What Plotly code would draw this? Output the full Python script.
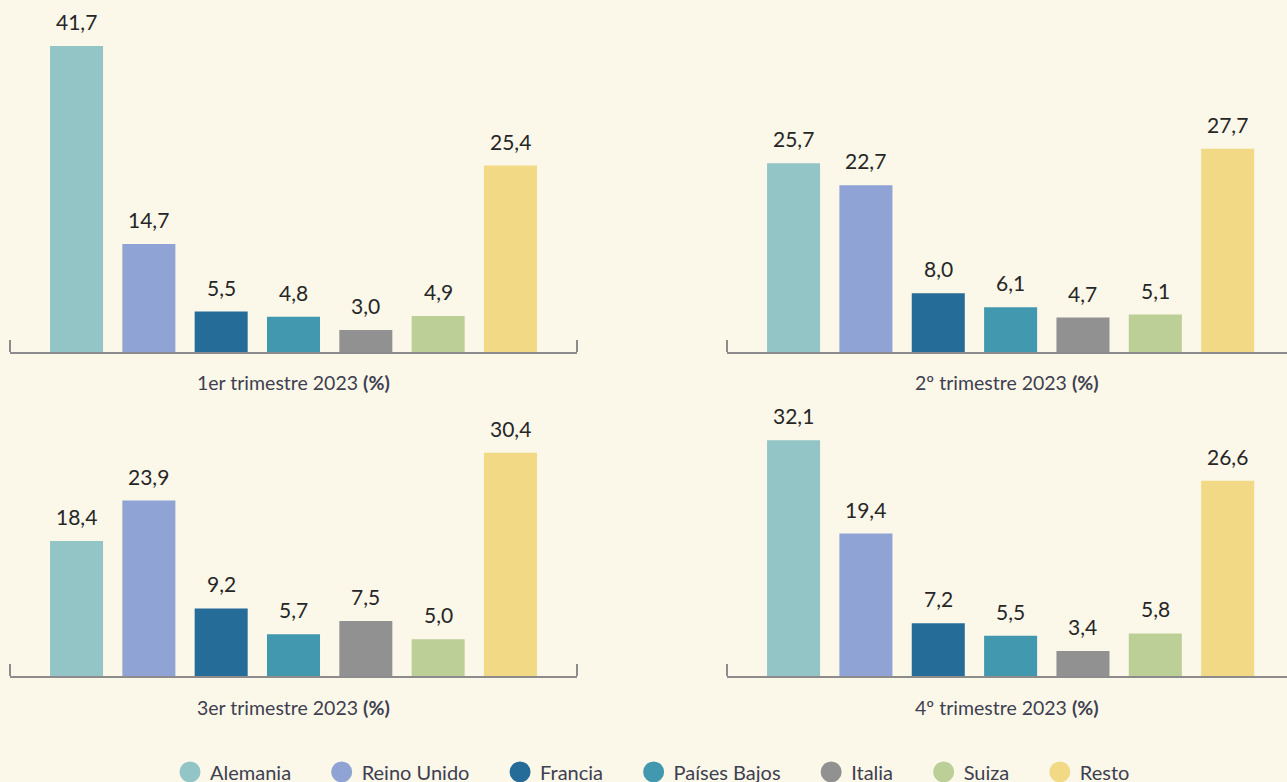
import plotly.graph_objects as go

countries = ["Alemania", "Reino Unido", "Francia", "Países Bajos", "Italia", "Suiza", "Resto"]
colors = ["#94C5C6", "#8FA3D4", "#256C99", "#4298AF", "#919191", "#BBCF96", "#F2D985"]

q1 = [41.7, 14.7, 5.5, 4.8, 3.0, 4.9, 25.4]
q2 = [25.7, 22.7, 8.0, 6.1, 4.7, 5.1, 27.7]
q3 = [18.4, 23.9, 9.2, 5.7, 7.5, 5.0, 30.4]
q4 = [32.1, 19.4, 7.2, 5.5, 3.4, 5.8, 26.6]

titles = ["1er trimestre 2023 <b>(%)</b>", "2º trimestre 2023 <b>(%)</b>",
          "3er trimestre 2023 <b>(%)</b>", "4º trimestre 2023 <b>(%)</b>"]
series = [q1, q2, q3, q4]

BG = "#FBF7E9"
FONT = "Lato"
W, H = 1287, 782

def px_x(p):
    return p / W

def px_y(p):
    return 1 - p / H

left_dom = [px_x(10), px_x(577)]
right_dom = [px_x(727), 1.0]
row1 = [px_y(352), px_y(352 - 323)]
row2 = [px_y(676), px_y(676 - 323)]
doms = [(left_dom, row1), (right_dom, row1), (left_dom, row2), (right_dom, row2)]
xranges = [[-0.92, 6.92], [-0.92, 6.82], [-0.92, 6.92], [-0.92, 6.82]]

fig = go.Figure()
layout = {}
annotations = []
shapes = []

for i, vals in enumerate(series):
    n = "" if i == 0 else str(i + 1)
    xa, ya = "x" + n, "y" + n
    fig.add_trace(go.Bar(
        x=countries, y=vals, marker=dict(color=colors, line=dict(width=0)),
        width=0.733, xaxis=xa, yaxis=ya, showlegend=False, hoverinfo="x+y"))
    xd, yd = doms[i]
    layout["xaxis" + n] = dict(domain=xd, range=xranges[i], anchor=ya, showline=True,
                               linecolor="#8C8C8C", linewidth=2, showticklabels=False,
                               ticks="", showgrid=False, zeroline=False, fixedrange=True)
    layout["yaxis" + n] = dict(domain=yd, range=[0, 44], anchor=xa, visible=False,
                               showgrid=False, zeroline=False, fixedrange=True)
    for c, v in zip(countries, vals):
        annotations.append(dict(x=c, y=v, xref=xa, yref=ya, text=f"{v:.1f}".replace(".", ","),
                                showarrow=False, yanchor="bottom", yshift=10,
                                font=dict(family=FONT, size=21, color="#262626")))
    annotations.append(dict(x=0.5, y=yd[0] - 31 / H, xref=xa + " domain", yref="paper",
                            text=titles[i], showarrow=False, xanchor="center", yanchor="middle",
                            font=dict(family=FONT, size=19.5, color="#3E3F50")))
    # end ticks of the axis line
    ends = [0, 1] if i in (0, 2) else [0]
    for e in ends:
        shapes.append(dict(type="line", xref=xa + " domain", yref=ya + " domain",
                           x0=e, x1=e, y0=0, y1=12 / 323,
                           line=dict(color="#8C8C8C", width=2)))

PAD = "\u00a0" * 5
for k, (c, col) in enumerate(zip(countries, colors)):
    fig.add_trace(go.Scatter(x=[None], y=[None], mode="markers",
                             name=c + (PAD if k < len(countries) - 1 else ""),
                             marker=dict(symbol="circle", size=16, color=col,
                                         line=dict(color=col, width=5))))

fig.update_layout(
    **layout,
    width=W, height=H,
    margin=dict(l=0, r=0, t=0, b=0, autoexpand=False),
    paper_bgcolor=BG, plot_bgcolor=BG,
    annotations=annotations, shapes=shapes,
    font=dict(family=FONT, size=19, color="#3E3F50"),
    legend=dict(orientation="h", x=0.507, xanchor="center", y=-0.012, yanchor="bottom",
                font=dict(family=FONT, size=20, color="#3E3F50"),
                bgcolor="rgba(0,0,0,0)", itemclick=False, itemdoubleclick=False),
    bargap=0.2,
)

fig.write_html("out.html", config={"displayModeBar": False},
               post_script="document.body.style.margin='0';document.body.style.overflow='hidden';")
